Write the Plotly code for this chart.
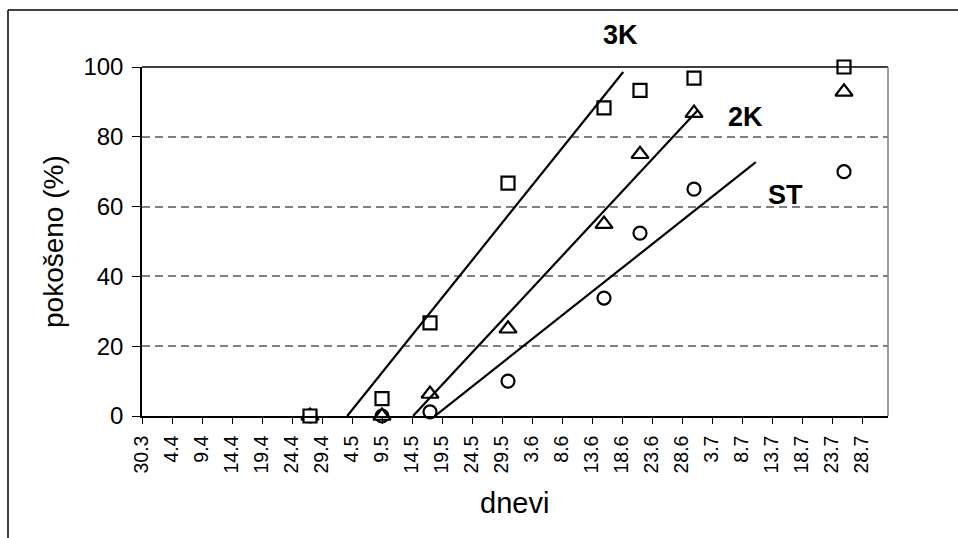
import plotly.graph_objects as go

# Observation days, counted from 30 March (day 0)
obs_days = [28, 40, 48, 61, 77, 83, 92, 117]

# Share of attacked material (%) per treatment
k3_values = [0, 5, 26.7, 66.7, 88.3, 93.3, 96.8, 100]
k2_values = [0, 0, 6.3, 25, 55, 75, 86.8, 92.9]
st_values = [0, 0, 1.2, 10, 33.8, 52.4, 65, 70]

# Linear trend lines: slope, intercept and day span
trend_names = ["3K", "2K", "ST"]
trend_slope = [2.143, 1.846, 1.360]
trend_intercept = [-73.3, -83.4, -66.4]
trend_start = [34.2, 45.2, 48.8]
trend_end = [80.2, 92.7, 102.3]

# Date tick labels, one every five days
tick_days = list(range(0, 121, 5))
tick_labels = ["30.3", "4.4", "9.4", "14.4", "19.4", "24.4", "29.4", "4.5",
               "9.5", "14.5", "19.5", "24.5", "29.5", "3.6", "8.6", "13.6",
               "18.6", "23.6", "28.6", "3.7", "8.7", "13.7", "18.7", "23.7",
               "28.7"]

W, H = 958, 538
ML, MR, MT, MB = 142, 70, 67, 122
PW, PH = W - ML - MR, H - MT - MB

def px_x(p):
    return (p - ML) / PW

def px_y(p):
    return (H - MB - p) / PH

FONT = "Liberation Sans, Arial, sans-serif"

fig = go.Figure()

# squares drawn last so they sit on top where series coincide
series = [
    (st_values, "circle", 13),
    (k2_values, "triangle-up", 15),
    (k3_values, "square", 13),
]
for vals, sym, size in series:
    fig.add_trace(go.Scatter(
        x=obs_days, y=vals, mode="markers", cliponaxis=False,
        marker=dict(symbol=sym, size=size, color="white",
                    line=dict(color="black", width=2.2)),
        showlegend=False, hoverinfo="skip"))

for a, b, x0, x1 in zip(trend_slope, trend_intercept, trend_start, trend_end):
    xs = [x0, x1]
    fig.add_trace(go.Scatter(
        x=xs, y=[a * v + b for v in xs], mode="lines", cliponaxis=False,
        line=dict(color="black", width=2.2), showlegend=False,
        hoverinfo="skip"))

fig.update_xaxes(
    range=[0, PW / 6.0], tickmode="array", tickvals=tick_days,
    ticktext=tick_labels, tickangle=-90, showgrid=False, zeroline=False,
    showline=True, linecolor="black", linewidth=1.5,
    ticks="outside", ticklen=6, tickwidth=1.3, tickcolor="black",
    tickfont=dict(family=FONT, size=19.5, color="black"),
    ticklabelstandoff=4)

fig.update_yaxes(
    range=[0, 100], tickmode="array", tickvals=[0, 20, 40, 60, 80, 100],
    showgrid=True, gridcolor="#808080", gridwidth=1.5,
    griddash="8px,5px", zeroline=False,
    showline=True, linecolor="black", linewidth=1.5,
    ticks="outside", ticklen=8, tickwidth=1.3, tickcolor="black",
    tickfont=dict(family=FONT, size=24, color="black"),
    ticklabelstandoff=4)

shapes = [
    # plot area top and right edges
    dict(type="line", xref="paper", yref="paper", x0=0, x1=1, y0=1, y1=1,
         line=dict(color="black", width=1.5)),
    dict(type="line", xref="paper", yref="paper", x0=1, x1=1, y0=0, y1=1,
         line=dict(color="#808080", width=1.5)),
    # outer chart frame
    dict(type="line", xref="paper", yref="paper",
         x0=px_x(8), x1=px_x(W + 5), y0=px_y(10), y1=px_y(10),
         line=dict(color="black", width=1.5)),
    dict(type="line", xref="paper", yref="paper",
         x0=px_x(8), x1=px_x(8), y0=px_y(10), y1=px_y(H + 5),
         line=dict(color="black", width=1.5)),
]

label_pos = [(620, 35), (745, 117), (785, 195)]
annotations = []
for name, (lx, ly) in zip(trend_names, label_pos):
    annotations.append(dict(
        text=f"<b>{name}</b>", xref="paper", yref="paper",
        x=px_x(lx), y=px_y(ly), xanchor="center", yanchor="middle",
        showarrow=False, font=dict(family=FONT, size=27, color="black")))

annotations.append(dict(
    text="dnevi", xref="paper", yref="paper", x=px_x(514), y=px_y(503),
    xanchor="center", yanchor="middle", showarrow=False,
    font=dict(family=FONT, size=29, color="black")))
annotations.append(dict(
    text="pokošeno (%)", xref="paper", yref="paper", x=px_x(53),
    y=px_y(242), xanchor="center", yanchor="middle", textangle=-90,
    showarrow=False, font=dict(family=FONT, size=28, color="black")))

fig.update_layout(
    width=W, height=H, autosize=False,
    margin=dict(l=ML, r=MR, t=MT, b=MB, pad=0),
    paper_bgcolor="white", plot_bgcolor="white",
    shapes=shapes, annotations=annotations,
    font=dict(family=FONT, color="black"))

fig.write_html("out.html")
